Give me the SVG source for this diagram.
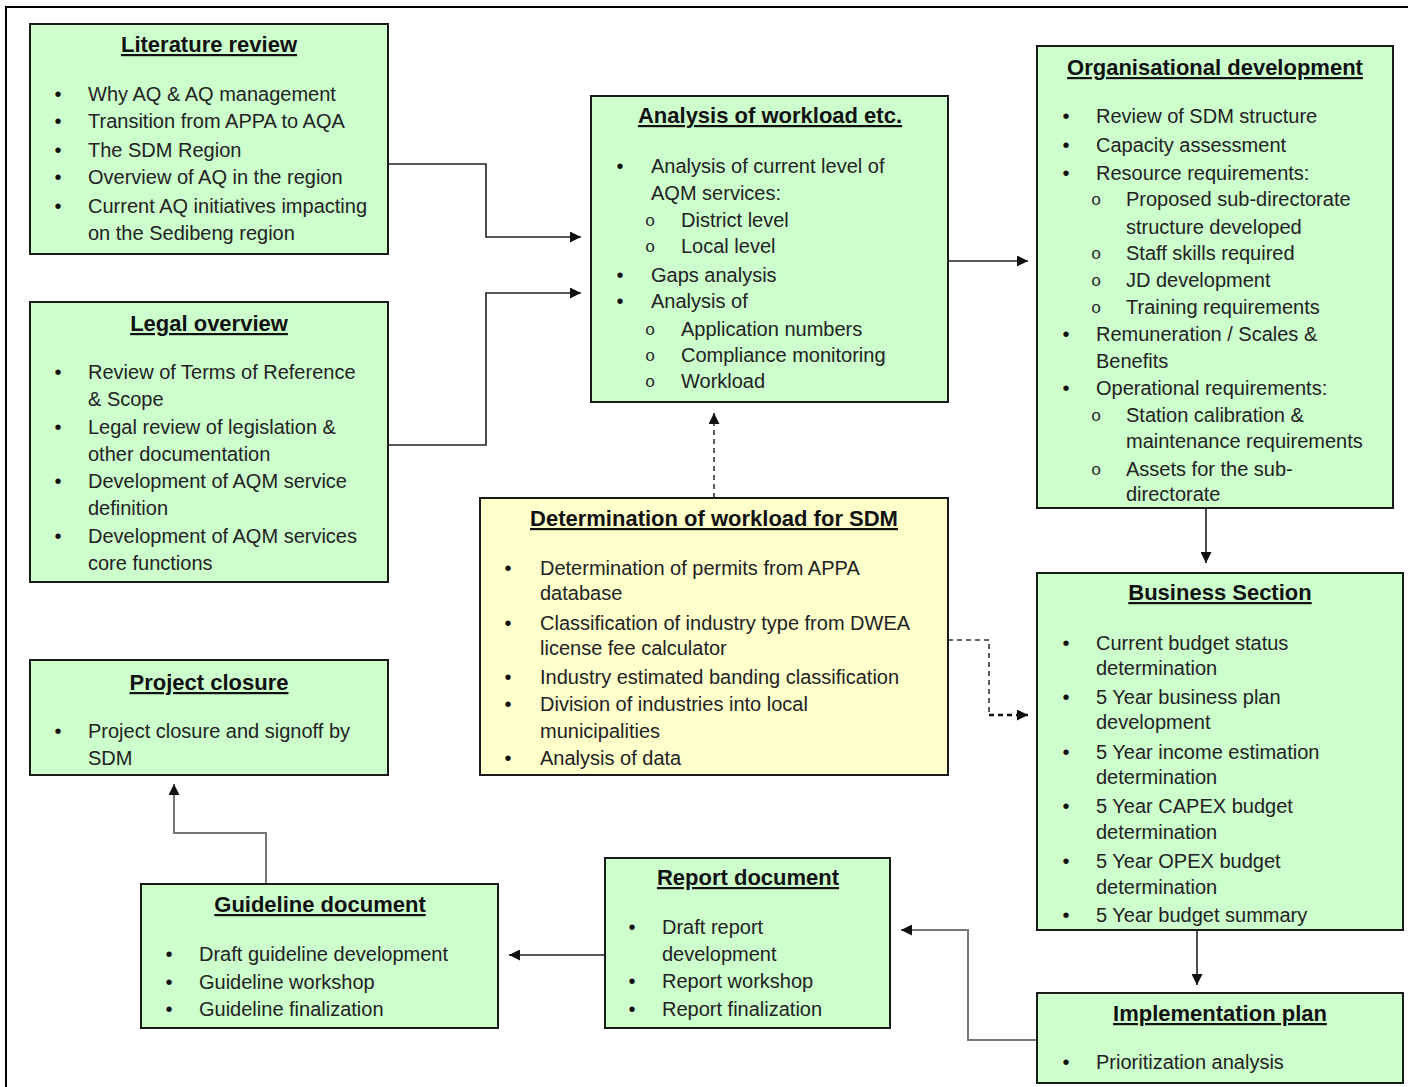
<svg xmlns="http://www.w3.org/2000/svg" width="1412" height="1087" viewBox="0 0 1412 1087">
<style>
.box{fill:#CCFFCC;stroke:#1a1a1a;stroke-width:2}
.ybox{fill:#FFFFCC;stroke:#1a1a1a;stroke-width:2}
.t{font-family:"Liberation Sans",Arial,sans-serif;font-size:22px;font-weight:bold;fill:#111;text-anchor:middle;text-decoration:underline}
.b{font-family:"Liberation Sans",Arial,sans-serif;font-size:20px;fill:#222}
.d{font-family:"Liberation Sans",Arial,sans-serif;font-size:20px;fill:#111;text-anchor:middle}
.o{font-family:"Liberation Mono","Courier New",monospace;font-size:17px;fill:#222;text-anchor:middle}
.c{fill:none;stroke:#222;stroke-width:1.6}
.g{fill:none;stroke:#777;stroke-width:2}
.dash{fill:none;stroke:#333;stroke-width:1.6;stroke-dasharray:5,4}
.dashb{fill:none;stroke:#111;stroke-width:2.6;stroke-dasharray:5,4}
</style>
<defs>
<marker id="ah" viewBox="0 0 10 10" refX="10" refY="5" markerWidth="11" markerHeight="11" markerUnits="userSpaceOnUse" orient="auto">
<path d="M0,0 L10,5 L0,10 z" fill="#111"/>
</marker>
</defs>
<rect width="1412" height="1087" fill="#fff"/>
<g id="frame"><path d="M6,1087 V7 H1408" fill="none" stroke="#000" stroke-width="2"/></g>

<g id="connectors">
<path class="c" d="M388,164 H486 V237 H581" marker-end="url(#ah)"/>
<path class="c" d="M388,445 H486 V293 H581" marker-end="url(#ah)"/>
<path class="c" d="M948,261 H1028" marker-end="url(#ah)"/>
<path class="dash" d="M714,498 V413" marker-end="url(#ah)"/>
<path class="dash" d="M948,640 H989 V715"/>
<path class="dashb" d="M989,715 H1028" marker-end="url(#ah)"/>
<path class="c" d="M1206,508 V563" marker-end="url(#ah)"/>
<path class="c" d="M1197,930 V985" marker-end="url(#ah)"/>
<path class="g" d="M1037,1040 H968 V930 H901" marker-end="url(#ah)"/>
<path class="c" d="M605,955 H509" marker-end="url(#ah)"/>
<path class="g" d="M266,884 V833 H174 V784" marker-end="url(#ah)"/>
</g>

<g id="literature-review">
<rect class="box" x="30" y="24" width="358" height="230"/>
<text class="t" x="209" y="52">Literature review</text>
<text class="d" x="58" y="101">•</text><text class="b" x="88" y="101">Why AQ &amp; AQ management</text>
<text class="d" x="58" y="128">•</text><text class="b" x="88" y="128">Transition from APPA to AQA</text>
<text class="d" x="58" y="157">•</text><text class="b" x="88" y="157">The SDM Region</text>
<text class="d" x="58" y="184">•</text><text class="b" x="88" y="184">Overview of AQ in the region</text>
<text class="d" x="58" y="213">•</text><text class="b" x="88" y="213">Current AQ initiatives impacting</text>
<text class="b" x="88" y="240">on the Sedibeng region</text>
</g>

<g id="legal-overview">
<rect class="box" x="30" y="302" width="358" height="280"/>
<text class="t" x="209" y="331">Legal overview</text>
<text class="d" x="58" y="379">•</text><text class="b" x="88" y="379">Review of Terms of Reference</text>
<text class="b" x="88" y="406">&amp; Scope</text>
<text class="d" x="58" y="434">•</text><text class="b" x="88" y="434">Legal review of legislation &amp;</text>
<text class="b" x="88" y="461">other documentation</text>
<text class="d" x="58" y="488">•</text><text class="b" x="88" y="488">Development of AQM service</text>
<text class="b" x="88" y="515">definition</text>
<text class="d" x="58" y="543">•</text><text class="b" x="88" y="543">Development of AQM services</text>
<text class="b" x="88" y="570">core functions</text>
</g>

<g id="project-closure">
<rect class="box" x="30" y="660" width="358" height="115"/>
<text class="t" x="209" y="690">Project closure</text>
<text class="d" x="58" y="738">•</text><text class="b" x="88" y="738">Project closure and signoff by</text>
<text class="b" x="88" y="765">SDM</text>
</g>

<g id="analysis-of-workload">
<rect class="box" x="591" y="96" width="357" height="306"/>
<text class="t" x="770" y="123">Analysis of workload etc.</text>
<text class="d" x="620" y="173">•</text><text class="b" x="651" y="173">Analysis of current level of</text>
<text class="b" x="651" y="200">AQM services:</text>
<text class="o" x="650" y="226">o</text><text class="b" x="681" y="227">District level</text>
<text class="o" x="650" y="252">o</text><text class="b" x="681" y="253">Local level</text>
<text class="d" x="620" y="282">•</text><text class="b" x="651" y="282">Gaps analysis</text>
<text class="d" x="620" y="308">•</text><text class="b" x="651" y="308">Analysis of</text>
<text class="o" x="650" y="335">o</text><text class="b" x="681" y="336">Application numbers</text>
<text class="o" x="650" y="361">o</text><text class="b" x="681" y="362">Compliance monitoring</text>
<text class="o" x="650" y="387">o</text><text class="b" x="681" y="388">Workload</text>
</g>

<g id="determination-of-workload">
<rect class="ybox" x="480" y="498" width="468" height="277"/>
<text class="t" x="714" y="526">Determination of workload for SDM</text>
<text class="d" x="508" y="575">•</text><text class="b" x="540" y="575">Determination of permits from APPA</text>
<text class="b" x="540" y="600">database</text>
<text class="d" x="508" y="630">•</text><text class="b" x="540" y="630">Classification of industry type from DWEA</text>
<text class="b" x="540" y="655">license fee calculator</text>
<text class="d" x="508" y="684">•</text><text class="b" x="540" y="684">Industry estimated banding classification</text>
<text class="d" x="508" y="711">•</text><text class="b" x="540" y="711">Division of industries into local</text>
<text class="b" x="540" y="738">municipalities</text>
<text class="d" x="508" y="765">•</text><text class="b" x="540" y="765">Analysis of data</text>
</g>

<g id="organisational-development">
<rect class="box" x="1037" y="46" width="356" height="462"/>
<text class="t" x="1215" y="75">Organisational development</text>
<text class="d" x="1066" y="123">•</text><text class="b" x="1096" y="123">Review of SDM structure</text>
<text class="d" x="1066" y="152">•</text><text class="b" x="1096" y="152">Capacity assessment</text>
<text class="d" x="1066" y="180">•</text><text class="b" x="1096" y="180">Resource requirements:</text>
<text class="o" x="1096" y="205">o</text><text class="b" x="1126" y="206">Proposed sub-directorate</text>
<text class="b" x="1126" y="234">structure developed</text>
<text class="o" x="1096" y="259">o</text><text class="b" x="1126" y="260">Staff skills required</text>
<text class="o" x="1096" y="286">o</text><text class="b" x="1126" y="287">JD development</text>
<text class="o" x="1096" y="313">o</text><text class="b" x="1126" y="314">Training requirements</text>
<text class="d" x="1066" y="341">•</text><text class="b" x="1096" y="341">Remuneration / Scales &amp;</text>
<text class="b" x="1096" y="368">Benefits</text>
<text class="d" x="1066" y="395">•</text><text class="b" x="1096" y="395">Operational requirements:</text>
<text class="o" x="1096" y="421">o</text><text class="b" x="1126" y="422">Station calibration &amp;</text>
<text class="b" x="1126" y="448">maintenance requirements</text>
<text class="o" x="1096" y="475">o</text><text class="b" x="1126" y="476">Assets for the sub-</text>
<text class="b" x="1126" y="501">directorate</text>
</g>

<g id="business-section">
<rect class="box" x="1037" y="573" width="366" height="357"/>
<text class="t" x="1220" y="600">Business Section</text>
<text class="d" x="1066" y="650">•</text><text class="b" x="1096" y="650">Current budget status</text>
<text class="b" x="1096" y="675">determination</text>
<text class="d" x="1066" y="704">•</text><text class="b" x="1096" y="704">5 Year business plan</text>
<text class="b" x="1096" y="729">development</text>
<text class="d" x="1066" y="759">•</text><text class="b" x="1096" y="759">5 Year income estimation</text>
<text class="b" x="1096" y="784">determination</text>
<text class="d" x="1066" y="813">•</text><text class="b" x="1096" y="813">5 Year CAPEX budget</text>
<text class="b" x="1096" y="839">determination</text>
<text class="d" x="1066" y="868">•</text><text class="b" x="1096" y="868">5 Year OPEX budget</text>
<text class="b" x="1096" y="894">determination</text>
<text class="d" x="1066" y="922">•</text><text class="b" x="1096" y="922">5 Year budget summary</text>
</g>

<g id="implementation-plan">
<rect class="box" x="1037" y="993" width="366" height="90"/>
<text class="t" x="1220" y="1021">Implementation plan</text>
<text class="d" x="1066" y="1069">•</text><text class="b" x="1096" y="1069">Prioritization analysis</text>
</g>

<g id="report-document">
<rect class="box" x="605" y="858" width="285" height="170"/>
<text class="t" x="748" y="885">Report document</text>
<text class="d" x="632" y="934">•</text><text class="b" x="662" y="934">Draft report</text>
<text class="b" x="662" y="961">development</text>
<text class="d" x="632" y="988">•</text><text class="b" x="662" y="988">Report workshop</text>
<text class="d" x="632" y="1016">•</text><text class="b" x="662" y="1016">Report finalization</text>
</g>

<g id="guideline-document">
<rect class="box" x="141" y="884" width="357" height="144"/>
<text class="t" x="320" y="912">Guideline document</text>
<text class="d" x="169" y="961">•</text><text class="b" x="199" y="961">Draft guideline development</text>
<text class="d" x="169" y="989">•</text><text class="b" x="199" y="989">Guideline workshop</text>
<text class="d" x="169" y="1016">•</text><text class="b" x="199" y="1016">Guideline finalization</text>
</g>
</svg>
